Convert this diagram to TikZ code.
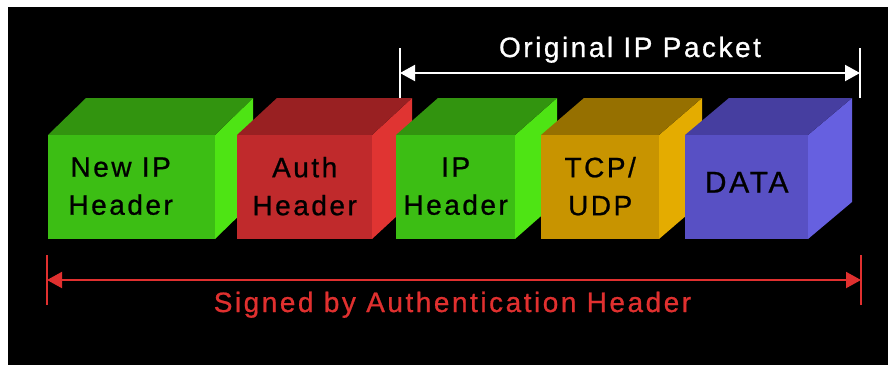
\documentclass[tikz,border=0pt]{standalone}
\usepackage{fontspec}
\setmainfont{Liberation Sans}[LetterSpace=9, FakeBold=0.8]
\usetikzlibrary{arrows.meta}

\definecolor{grnfront}{HTML}{3CBE14}
\definecolor{grntop}{HTML}{32940F}
\definecolor{grnside}{HTML}{4EE414}
\definecolor{redfront}{HTML}{C02A2C}
\definecolor{redtop}{HTML}{992022}
\definecolor{redside}{HTML}{E03432}
\definecolor{orgfront}{HTML}{C89400}
\definecolor{orgtop}{HTML}{967000}
\definecolor{orgside}{HTML}{E4AC00}
\definecolor{blufront}{HTML}{5850C4}
\definecolor{blutop}{HTML}{463EA0}
\definecolor{bluside}{HTML}{6660E0}
\definecolor{signred}{HTML}{E0302F}

% box: name, left x, right x, depth, colour
\newcommand{\pktbox}[5]{%
    \fill[#5side] (#3,135) -- (#3+#4,98) -- (#3+#4,202) -- (#3,239) -- cycle;
    \fill[#5top] (#2,135) -- (#2+#4,98) -- (#3+#4,98) -- (#3,135) -- cycle;
    \node[front, fill=#5front, minimum width=#3pt-#2pt] (#1) at (#2,135) {};
}

\begin{document}
\begin{tikzpicture}[x=1pt, y=-1pt,
    front/.style={anchor=north west, inner sep=0pt, minimum height=104pt},
    lbl/.style={align=center, font=\fontsize{28}{38}\selectfont},
    span/.style={line width=2pt, {Triangle[length=15pt,width=16pt]}-{Triangle[length=15pt,width=16pt]}},
    bar/.style={line width=2pt}]
    \fill[white] (0,0) rectangle (888,365);
    \fill[black] (8,7) rectangle (888,365);

    \pktbox{newip}{48}{215}{38}{grn}
    \pktbox{auth}{237}{372}{40}{red}
    \pktbox{iphdr}{396}{515}{42}{grn}
    \pktbox{tcp}{541}{659}{43}{org}
    \pktbox{data}{685}{808}{44}{blu}

    \node[lbl] (newiplbl) at ([xshift=-11pt,yshift=1pt]newip.center) {New IP\\Header};
    \node[lbl] (authlbl) at ([yshift=1pt]auth.center) {Auth\\Header};
    \node[lbl] (iplbl) at ([yshift=1pt]iphdr.center) {IP\\Header};
    \node[lbl] (tcplbl) at ([yshift=1pt]tcp.center) {TCP/\\UDP};
    \node[lbl, font=\fontsize{30}{38}\selectfont] (datalbl) at ([yshift=5pt]data.center) {DATA};

    % original packet span
    \coordinate (origL) at (400,73);
    \coordinate (origR) at (860,73);
    \draw[bar, white] ([yshift=-25pt]origL) -- ([yshift=25pt]origL);
    \draw[bar, white] ([yshift=-25pt]origR) -- ([yshift=25pt]origR);
    \draw[span, white] (origL) -- (origR);
    \node[lbl, white, anchor=base] (origtxt) at (630,57) {Original IP Packet};

    % signed span
    \coordinate (signL) at (47,280);
    \coordinate (signR) at (861,280);
    \draw[bar, signred] ([yshift=-25pt]signL) -- ([yshift=25pt]signL);
    \draw[bar, signred] ([yshift=-25pt]signR) -- ([yshift=25pt]signR);
    \draw[span, signred] (signL) -- (signR);
    \node[lbl, signred, anchor=base] (signtxt) at (452.5,312) {Signed by Authentication Header};
\end{tikzpicture}
\end{document}
